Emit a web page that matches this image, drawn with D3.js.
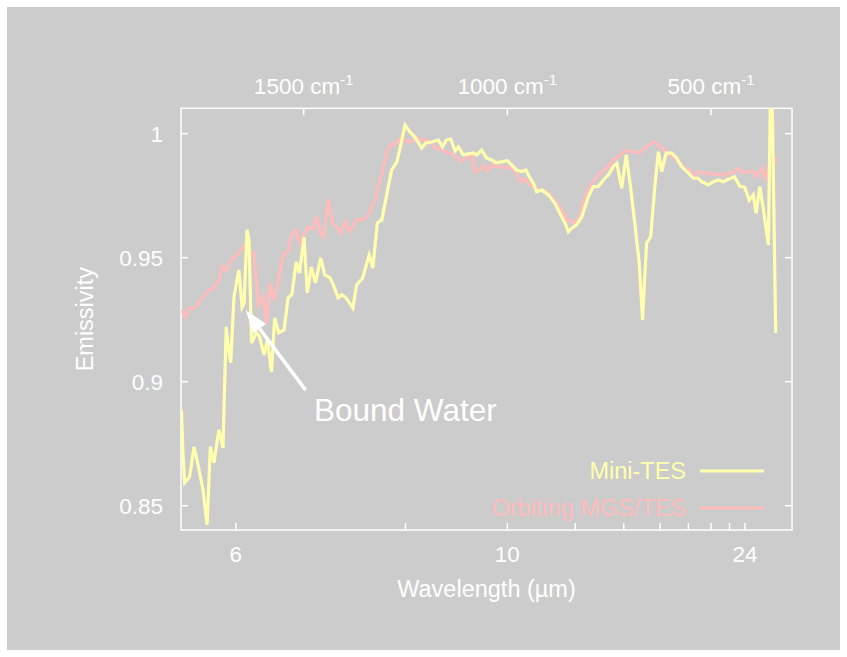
<!DOCTYPE html>
<html>
<head>
<meta charset="utf-8">
<script src="https://cdn.jsdelivr.net/npm/d3@7/dist/d3.min.js"></script>
<style>
  html, body { margin: 0; padding: 0; background: #ffffff; }
  svg { display: block; }
  text { font-family: "Liberation Sans", Arial, Helvetica, sans-serif; fill: #ffffff; }
</style>
</head>
<body>
<svg id="chart" width="847" height="657"></svg>
<script>
// ---------- DATA ----------
// Mini-TES spectrum: wavenumber (cm^-1) and emissivity
const miniWavenumber = [1799,1795,1791,1779,1768,1757,1746,1736,1728,1719,1707,1697,1689,1683,1678,1670,1658,1650,1645,1638,1633,1627,1615,1607,1596,1588,1578,1570,1560,1547,1537,1528,1517,1509,1498,1490,1480,1470,1457,1447,1434,1426,1414,1405,1395,1378,1369,1354,1338,1329,1318,1307,1295,1283,1270,1262,1250,1238,1226,1209,1199,1185,1168,1158,1149,1138,1127,1119,1107,1095,1082,1074,1062,1050,1037,1027,1013,999,988,976,964,953,945,935,927,914,898,882,870,857,849,841,829,816,800,788,776,763,751,739,730,718,707,696,685,675,667,657,647,636,628,620,609,595,583,571,558,542,530,522,505,493,481,469,456,441,428,416,405,395,388,379,369,358,351,340];
const miniEmissivity = [0.8884,0.8703,0.8590,0.8614,0.8735,0.8654,0.8562,0.8421,0.8735,0.8671,0.8804,0.8731,0.9219,0.9126,0.9074,0.9340,0.9448,0.9299,0.9315,0.9610,0.9569,0.9154,0.9195,0.9179,0.9106,0.9167,0.9037,0.9255,0.9195,0.9207,0.9336,0.9348,0.9481,0.9436,0.9581,0.9356,0.9460,0.9396,0.9497,0.9428,0.9416,0.9388,0.9336,0.9348,0.9336,0.9295,0.9388,0.9416,0.9509,0.9456,0.9638,0.9650,0.9751,0.9851,0.9884,0.9940,1.0033,1.0005,0.9984,0.9940,0.9960,0.9964,0.9972,0.9944,0.9972,0.9976,0.9928,0.9944,0.9912,0.9916,0.9920,0.9912,0.9932,0.9900,0.9892,0.9880,0.9884,0.9889,0.9871,0.9851,0.9845,0.9851,0.9824,0.9798,0.9764,0.9771,0.9751,0.9717,0.9677,0.9637,0.9603,0.9616,0.9630,0.9663,0.9744,0.9784,0.9784,0.9811,0.9831,0.9865,0.9878,0.9778,0.9912,0.9778,0.9623,0.9475,0.9247,0.9556,0.9583,0.9798,0.9925,0.9845,0.9919,0.9919,0.9899,0.9865,0.9845,0.9818,0.9818,0.9804,0.9791,0.9804,0.9811,0.9804,0.9814,0.9824,0.9785,0.9782,0.9730,0.9751,0.9677,0.9785,0.9678,0.9549,1.0400,0.9194];

// Orbiting MGS/TES spectrum: wavenumber (cm^-1) and emissivity
const mgsWavenumber = [1799,1789,1779,1766,1754,1742,1730,1719,1707,1699,1689,1678,1667,1656,1640,1631,1621,1610,1599,1590,1582,1572,1562,1554,1547,1537,1528,1519,1507,1498,1487,1476,1467,1459,1450,1438,1428,1418,1408,1397,1387,1377,1367,1354,1344,1336,1326,1316,1305,1295,1287,1275,1264,1256,1248,1234,1221,1209,1197,1185,1176,1164,1152,1144,1131,1122,1111,1099,1086,1078,1066,1056,1049,1037,1025,1013,1000,988,978,966,955,943,931,919,902,887,874,861,853,843,833,820,808,792,771,755,739,722,706,691,677,661,649,636,624,609,593,577,563,550,542,530,517,501,489,477,466,456,444,432,420,407,395,387,374,366,358,350,338];
const mgsEmissivity = [0.9287,0.9260,0.9294,0.9294,0.9321,0.9348,0.9368,0.9375,0.9408,0.9462,0.9448,0.9489,0.9502,0.9522,0.9556,0.9522,0.9516,0.9307,0.9340,0.9231,0.9392,0.9327,0.9396,0.9468,0.9517,0.9522,0.9593,0.9610,0.9556,0.9597,0.9620,0.9614,0.9666,0.9601,0.9583,0.9734,0.9637,0.9623,0.9596,0.9643,0.9605,0.9630,0.9654,0.9650,0.9663,0.9683,0.9724,0.9784,0.9851,0.9919,0.9952,0.9955,0.9972,0.9990,0.9968,0.9965,0.9982,0.9972,0.9972,0.9959,0.9941,0.9936,0.9925,0.9923,0.9912,0.9896,0.9888,0.9901,0.9915,0.9845,0.9851,0.9871,0.9847,0.9871,0.9865,0.9865,0.9858,0.9865,0.9838,0.9804,0.9814,0.9791,0.9782,0.9771,0.9764,0.9737,0.9710,0.9683,0.9650,0.9647,0.9637,0.9670,0.9747,0.9798,0.9838,0.9858,0.9892,0.9912,0.9930,0.9925,0.9919,0.9939,0.9956,0.9965,0.9945,0.9925,0.9905,0.9881,0.9858,0.9851,0.9818,0.9845,0.9838,0.9838,0.9831,0.9838,0.9827,0.9840,0.9840,0.9858,0.9840,0.9845,0.9845,0.9824,0.9858,0.9818,0.9865,0.9845,0.9899];

// Axis ticks
const yTicks = [0.85, 0.9, 0.95, 1];
const wavelengthTicks = [6, 8, 10, 12, 14, 16, 18, 20, 22, 24];   // micrometres
const wavelengthLabels = [6, 10, 24];
const wavenumberTicks = [1500, 1000, 500];                          // cm^-1
const seriesNames = ["Mini-TES", "Orbiting MGS/TES"];
const annotationText = "Bound Water";

// ---------- LAYOUT ----------
const svg = d3.select("#chart");
const W = 847, H = 657;
const plot = { left: 181, right: 792, top: 108.3, bottom: 530 };
const colors = { mini: "#ffffad", mgs: "#ffbcbc" };

svg.append("rect").attr("x", 7).attr("y", 7).attr("width", W - 14).attr("height", H - 14)
  .attr("fill", "#cccccc");

const x = d3.scaleLinear().domain([1800, 300]).range([plot.left, plot.right]);
const y = d3.scaleLinear().domain([0.84, 1.01]).range([plot.bottom, plot.top]);

svg.append("clipPath").attr("id", "clip").append("rect")
  .attr("x", plot.left).attr("y", plot.top)
  .attr("width", plot.right - plot.left).attr("height", plot.bottom - plot.top);

// ---------- AXES ----------
const axisStyle = g => {
  g.select(".domain").remove();
  g.selectAll(".tick line").attr("stroke", "#ffffff").attr("stroke-width", 1.5);
  g.selectAll(".tick text").attr("fill", "#ffffff").style("font-size", "22.5px");
};

// bottom (wavelength, µm)
svg.append("g").attr("transform", `translate(0,${plot.bottom})`)
  .call(d3.axisBottom(x)
    .tickValues(wavelengthTicks.map(m => 1e4 / m))
    .tickSize(-7).tickPadding(0)
    .tickFormat(v => {
      const m = Math.round(1e4 / v);
      return wavelengthLabels.includes(m) ? String(m) : "";
    }))
  .call(axisStyle)
  .call(g => g.selectAll(".tick text").attr("dy", null).attr("y", 32));

// top (wavenumber, cm^-1)
const topAxis = svg.append("g").attr("transform", `translate(0,${plot.top})`)
  .call(d3.axisTop(x).tickValues(wavenumberTicks).tickSize(-7).tickFormat(""))
  .call(axisStyle);
topAxis.selectAll(".tick").each(function(d) {
  const t = d3.select(this).append("text")
    .attr("y", -14).attr("text-anchor", "middle")
    .attr("fill", "#ffffff").style("font-size", "22.5px");
  t.append("tspan").text(d + " cm");
  t.append("tspan").attr("dy", -9).style("font-size", "15px").text("-1");
});

// left
svg.append("g").attr("transform", `translate(${plot.left},0)`)
  .call(d3.axisLeft(y).tickValues(yTicks).tickSize(-7).tickPadding(18)
    .tickFormat(v => (v === 1 ? "1" : String(v))))
  .call(axisStyle)
  .call(g => g.selectAll(".tick text").attr("dy", "0.36em"));

// right
svg.append("g").attr("transform", `translate(${plot.right},0)`)
  .call(d3.axisRight(y).tickValues(yTicks).tickSize(-7).tickFormat(""))
  .call(axisStyle);

// frame
svg.append("rect").attr("x", plot.left).attr("y", plot.top)
  .attr("width", plot.right - plot.left).attr("height", plot.bottom - plot.top)
  .attr("fill", "none").attr("stroke", "#ffffff").attr("stroke-width", 1.5);

// axis titles
svg.append("text").attr("x", (plot.left + plot.right) / 2).attr("y", 597)
  .attr("text-anchor", "middle").style("font-size", "23.5px")
  .text("Wavelength (\u00b5m)");
svg.append("text").attr("transform", `translate(93,${(plot.top + plot.bottom) / 2}) rotate(-90)`)
  .attr("text-anchor", "middle").style("font-size", "23.5px")
  .text("Emissivity");

// ---------- SERIES ----------
const line = d3.line().x(d => x(d[0])).y(d => y(d[1]));
const gLines = svg.append("g").attr("clip-path", "url(#clip)");
const mgsData = d3.zip(mgsWavenumber, mgsEmissivity);
const miniData = d3.zip(miniWavenumber, miniEmissivity);
gLines.append("path").datum(mgsData).attr("d", line)
  .attr("fill", "none").attr("stroke", colors.mgs).attr("stroke-width", 3.2)
  .attr("stroke-linejoin", "miter");
gLines.append("path").datum(miniData).attr("d", line)
  .attr("fill", "none").attr("stroke", colors.mini).attr("stroke-width", 3.2)
  .attr("stroke-linejoin", "miter");

// ---------- LEGEND ----------
const legend = [
  { name: seriesNames[0], color: colors.mini, y: 471 },
  { name: seriesNames[1], color: colors.mgs, y: 508 }
];
legend.forEach(l => {
  svg.append("text").attr("x", 686).attr("y", l.y + 8).attr("text-anchor", "end")
    .style("font-size", "23.5px").style("fill", l.color).text(l.name);
  svg.append("line").attr("x1", 700).attr("x2", 764).attr("y1", l.y).attr("y2", l.y)
    .attr("stroke", l.color).attr("stroke-width", 3.2);
});

// ---------- ANNOTATION ----------
const tip = [x(1641), y(0.9286)];
const tail = [x(1494), y(0.8964)];
const ang = Math.atan2(tail[1] - tip[1], tail[0] - tip[0]);
const headLen = 23, headHalf = 8;
const base = [tip[0] + headLen * Math.cos(ang), tip[1] + headLen * Math.sin(ang)];
svg.append("line").attr("x1", tail[0]).attr("y1", tail[1]).attr("x2", base[0]).attr("y2", base[1])
  .attr("stroke", "#ffffff").attr("stroke-width", 3.5);
svg.append("path")
  .attr("d", `M${tip[0]},${tip[1]}L${base[0] - headHalf * Math.sin(ang)},${base[1] + headHalf * Math.cos(ang)}L${base[0] + headHalf * Math.sin(ang)},${base[1] - headHalf * Math.cos(ang)}Z`)
  .attr("fill", "#ffffff");
svg.append("text").attr("x", 314).attr("y", 421).style("font-size", "31.5px").text(annotationText);
</script>
</body>
</html>
